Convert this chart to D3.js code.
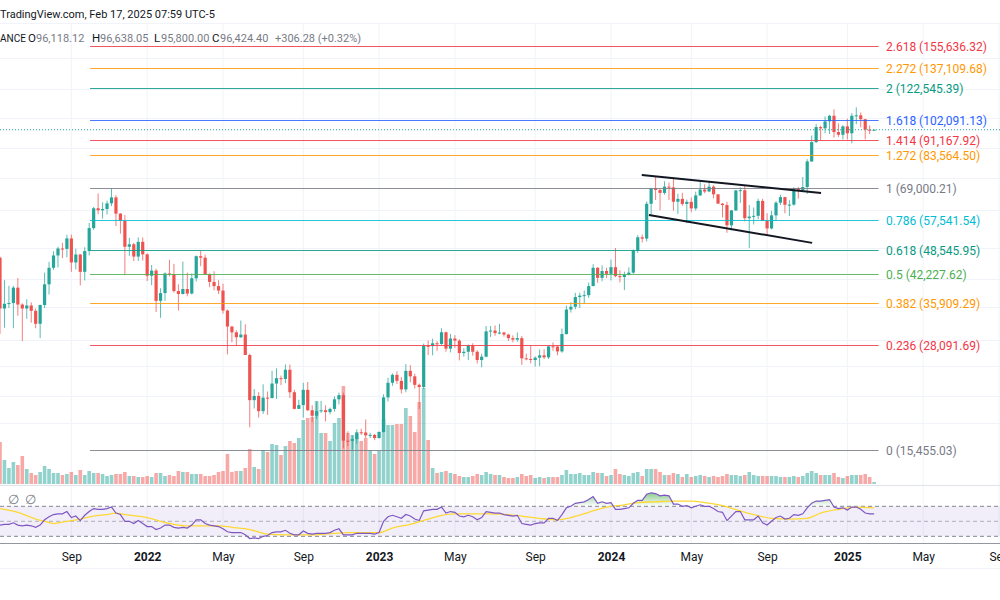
<!DOCTYPE html>
<html><head><meta charset="utf-8">
<script src="https://cdn.jsdelivr.net/npm/d3@7"></script>
<style>body{margin:0;background:#fff;overflow:hidden}svg{display:block;font-family:Roboto,"Noto Sans",sans-serif}</style>
</head><body><svg id="c" width="1000" height="600"></svg>
<script>
// ---------- DATA (weekly bars, index 0 = week of 17 May 2021) ----------
const opens=[46400,34700,35650,35800,39100,35500,34700,35300,34250,31800,
35400,39850,43800,47000,48900,48800,51800,45150,47250,42800,
48200,54950,61550,60850,61300,63300,65500,59700,57250,49400,
50100,46700,50800,47300,41850,43100,36250,37900,42400,42200,
38350,37700,38800,37800,41250,46800,46400,42150,40400,39450,
38450,34300,31300,30280,29450,29900,26600,20550,21050,19300,
20850,20800,22600,23300,23200,24450,21500,19550,19980,21800,
19400,18800,19300,19400,19200,19550,20650,21150,16300,16280,
16450,17100,17080,16800,16850,16550,17130,20880,22700,23750,
22950,21850,24300,23550,22430,22150,28030,27990,28450,28330,
30300,27590,29230,28880,26900,27100,28070,27100,25850,26350,
30450,30600,30150,30250,29900,29300,29050,29300,26100,26000,
25850,26200,26550,26250,27950,27920,27150,29990,34500,35050,
37050,37350,37450,39450,43800,41350,43000,42300,43950,41750,
41550,42050,42600,48300,52150,51750,63150,68950,68350,67200,
69650,69360,63900,64950,63100,63850,61500,66250,68500,67750,
69650,66650,63200,62700,55850,60800,68150,68250,58150,58700,
58950,64200,57300,54850,59100,63550,65600,62800,62850,69000,
68350,69500,80450,89850,97900,97200,101150,104450,95150,93700,
98300,94500,104450,104700,102400,96450,96118.12];
const highs=[46650,40800,39500,39500,41300,35750,36600,35950,34700,35500,
42600,45300,48150,49400,50500,52900,52950,48850,47400,49250,
56600,62000,67000,63700,64300,69000,66350,59900,59200,51950,
50500,52100,52100,47550,44500,43550,38950,42650,45850,44800,
39850,45400,42600,42400,47000,48200,47200,42450,42950,40800,
40000,34500,31400,30650,32400,31700,26800,21900,21500,22500,
21600,24300,24650,23650,25200,25200,21800,20600,22700,22800,
19950,20400,20450,19950,19700,21000,21450,21450,17200,16800,
17400,17450,18400,17050,16950,17200,21250,23350,23950,24250,
23450,25250,25100,23900,22600,28400,28900,29200,28800,31000,
30400,30000,29800,29100,27650,28250,28450,27350,26800,31400,
31400,31500,31800,30350,30050,29750,30250,29650,26800,28150,
26400,27450,27500,28000,28600,28000,30950,35280,35950,37950,
37980,38450,40250,44700,43950,44400,43800,45900,49050,43200,
42850,43900,48600,52800,52950,64000,69200,73800,68900,71800,
71300,72800,66900,67250,64700,65500,67700,71950,70600,71950,
70200,66800,63400,63850,61000,68400,69400,70100,62700,61800,
65000,64950,59800,60650,64100,66500,65700,64450,69400,69500,
73600,81500,93300,99600,98700,104000,105000,108350,99950,98900,
102700,106000,109600,106450,102500,98800,96638.05];
const lows=[30000,31100,34800,31000,33300,28800,32700,32000,31000,29300,
34800,37600,43300,43900,46300,46500,42800,43400,39600,40750,
47000,54400,59500,58000,59400,62300,55600,53250,42000,46900,
45500,45550,45650,40600,39650,34000,32900,36250,41700,38000,
34300,37600,37200,37600,40500,44200,42100,39200,38500,37700,
33700,26700,28600,28000,29300,26600,17600,19600,18600,19000,
18900,20750,20700,22400,22650,20800,19500,19550,18600,19300,
18150,18450,19100,18200,18950,19250,20050,15600,15800,15476,
16000,16850,16550,16550,16350,16500,17080,20400,22300,22550,
21350,21500,22750,21950,19550,21900,26600,26550,27250,28200,
27100,27000,27700,25800,26350,25850,26500,25350,24800,26250,
29500,29700,29950,29550,28850,28600,28700,25150,25800,25350,
24900,24950,26000,26000,27250,26550,26950,29900,33900,34550,
34800,35600,36850,39450,40200,40550,41300,40750,41500,40300,
38550,41900,42300,47700,50600,50900,59000,64550,60800,66550,
64500,60700,59600,62400,56550,60200,60750,66050,67100,67500,
65100,63200,58400,53500,54250,60600,63500,57100,49050,56100,
57800,57200,52550,54550,57500,62700,59800,58900,62450,65000,
67500,66800,80200,89400,90800,94500,94150,92200,92550,91250,
91200,89250,99500,97750,91250,94100,95800];
const closes=[34700,35650,35800,39100,35500,34700,35300,34250,31800,35400,
39850,43800,47000,48900,48800,51800,45150,47250,42800,48200,
54950,61550,60850,61300,63300,65500,59700,57250,49400,50100,
46700,50800,47300,41850,43100,36250,37900,42400,42200,38350,
37700,38800,37800,41250,46800,46400,42150,40400,39450,38450,
34300,31300,30280,29450,29900,26600,20550,21050,19300,20850,
20800,22600,23300,23200,24450,21500,19550,19980,21800,19400,
18800,19300,19400,19200,19550,20650,21150,16300,16280,16450,
17100,17080,16800,16850,16550,17130,20880,22700,23750,22950,
21850,24300,23550,22430,22150,28030,27990,28450,28330,30300,
27590,29230,28880,26900,27100,28070,27100,25850,26350,30450,
30600,30150,30250,29900,29300,29050,29300,26100,26000,25850,
26200,26550,26250,27950,27920,27150,29990,34500,35050,37050,
37350,37450,39450,43800,41350,43000,42300,43950,41750,41550,
42050,42600,48300,52150,51750,63150,68950,68350,67200,69650,
69360,63900,64950,63100,63850,61500,66250,68500,67750,69650,
66650,63200,62700,55850,60800,68150,68250,58150,58700,58950,
64200,57300,54850,59100,63550,65600,62800,62850,69000,68350,
69500,80450,89850,97900,97200,101150,104450,95150,93700,98300,
94500,104450,104700,102400,96450,96118.12,96424.40];
// weekly volume, thousand BTC
const volumes=[1050,600,400,550,475,700,375,275,225,300,
450,375,275,275,225,250,300,225,350,225,
325,275,275,250,200,225,250,250,300,200,
200,175,175,200,175,275,275,200,225,200,
325,300,300,250,250,250,200,200,225,300,
325,750,300,325,325,400,875,425,375,850,
800,1000,975,725,950,1075,1025,1150,1600,1650,
1675,2075,1275,1275,1075,1525,1650,2450,1275,1225,
1250,1075,1150,850,750,825,1625,1475,1475,1500,
1500,1900,1700,1300,2050,2400,1100,400,275,300,
325,275,250,200,175,175,200,250,225,300,
250,225,225,175,150,150,175,250,200,225,
150,175,150,175,175,175,225,350,250,250,
275,225,225,300,275,275,200,225,375,250,
225,200,275,300,200,375,375,375,300,225,
225,275,250,175,250,175,200,225,200,175,
200,175,200,250,225,225,200,225,300,225,
200,200,200,200,200,175,175,175,200,175,
200,275,325,275,225,225,225,275,175,150,
200,225,225,225,250,175,50];
// RSI(14)
const rsiValues=[45,46,46,48,45,44,45,44,42,45,
52,56,59,60,60,63,55,57,51,58,
63,67,66,66,67,69,61,59,50,50,
47,51,47,43,43,39,41,45,45,42,
41,42,41,45,52,52,47,45,44,43,
40,36,35,35,35,32,27,28,27,30,
31,35,36,36,38,34,32,32,37,34,
33,34,34,34,35,38,40,32,32,32,
34,34,34,34,33,35,50,56,58,56,
54,59,57,53,51,64,65,66,66,69,
61,63,62,57,56,58,56,52,55,63,
62,61,61,59,58,57,58,47,46,45,
47,48,48,54,54,51,59,68,70,74,
75,76,79,83,74,76,74,75,66,66,
67,68,74,78,78,86,88,87,84,85,
84,73,73,70,71,68,70,72,70,70,
67,63,62,51,57,63,63,52,52,52,
57,48,45,50,55,57,53,54,59,58,
60,68,74,77,77,78,79,69,67,68,
65,69,69,66,61,60,60];
// RSI moving average, read at these bar indices
const rsiMaIndex=[0,4,8,10,12,15,18,21,24,26,28,31,33,36,39,42,45,49,52,56,60,64,67,71,75,78,82,85,88,92,96,99,102,106,110,114,117,121,125,128,132,136,140,143,147,151,155,158,162,166,169,173,177,181,184,188,192,196];
const rsiMaValues=[67,62,53,50,47,50,53,57,59,61,59,57,55,50,46,44,44,44,42,39,33,32,32,32,34,35,35,35,41,46,53,58,60,60,60,59,57,54,52,55,62,69,72,75,76,77,77,75,71,64,59,54,53,54,61,66,69,68];
// time axis
const tickIndex=[16,33,50,68,85,102,120,137,155,172,190,207,224];
const tickLabels=["Sep","2022","May","Sep","2023","May","Sep","2024","May","Sep","2025","May","Sep"];
// fibonacci levels
const fibRatios=["2.618","2.272","2","1.618","1.414","1.272","1","0.786","0.618","0.5","0.382","0.236","0"];
const fibPrices=[155636.32,137109.68,122545.39,102091.13,91167.92,83564.50,69000.21,57541.54,48545.95,42227.62,35909.29,28091.69,15455.03];
// channel drawn on the chart: [barIndex, price]
const channelUpper=[[143.9,74470],[184.1,67200]];
const channelLower=[[145.5,59250],[182.1,50500]];
// price grid
const gridPrices=[18000,21000,25000,29000,35000,41000,49000,61000,73000,87000,103000,122000,145000];
const lastPrice=96424.40;
const header1="TradingView.com, Feb 17, 2025 07:59 UTC-5";
const exchangeTail="ANCE";
const ohlcLabels=["O","H","L","C"];
const ohlcValues=["96,118.12","96,638.05","95,800.00","96,424.40"];
const changeText="+306.28 (+0.32%)";

// ---------- STYLE / LAYOUT ----------
const fibColors=["#f23645","#ff9800","#089981","#2962ff","#f23645","#ff9800","#787b86","#00bcd4","#089981","#4caf50","#ff9800","#f23645","#787b86"];
const UP="#26a69a", DN="#ef5350", GRID="#f0f3fa";
const ohlcLabelX=[28,92,154,212], ohlcValueX=[36,100,161,220], changeX=275;

const svg=d3.select("#c");
const n=closes.length;
const x=d3.scaleLinear().domain([0,224]).range([0,999]);
const y=d3.scaleLog().domain([15455.03,155636.32]).range([450,46]);
const yVol=d3.scaleLinear().domain([0,2450]).range([484,386]);
const yRsi=d3.scaleLinear().domain([30,70]).range([536.3,506.3]);
const idx=d3.range(n);

svg.append("rect").attr("width",1000).attr("height",600).attr("fill","#fff");

// grid
const g=svg.append("g");
g.selectAll(".vg").data(tickIndex).join("line")
 .attr("x1",d=>x(d)).attr("x2",d=>x(d)).attr("y1",23).attr("y2",543)
 .attr("stroke",GRID).attr("stroke-width",1);
g.selectAll(".hg").data(gridPrices).join("line")
 .attr("x1",0).attr("x2",1000).attr("y1",d=>Math.round(y(d))+0.5).attr("y2",d=>Math.round(y(d))+0.5)
 .attr("stroke",GRID).attr("stroke-width",1);
g.append("line").attr("x1",0).attr("x2",1000).attr("y1",23.5).attr("y2",23.5).attr("stroke",GRID);

// volume
svg.append("g").selectAll("rect").data(idx).join("rect")
 .attr("x",i=>x(i)-1.8).attr("width",3.6)
 .attr("y",i=>yVol(volumes[i])).attr("height",i=>yVol(0)-yVol(volumes[i]))
 .attr("fill",i=>closes[i]>=opens[i]?"rgba(38,166,154,0.5)":"rgba(239,83,80,0.5)");

// candles
const cg=svg.append("g");
cg.selectAll("line").data(idx).join("line")
 .attr("x1",i=>x(i)).attr("x2",i=>x(i))
 .attr("y1",i=>y(highs[i])).attr("y2",i=>y(lows[i]))
 .attr("stroke",i=>closes[i]>=opens[i]?UP:DN).attr("stroke-opacity",0.75).attr("stroke-width",1);
cg.selectAll("rect").data(idx).join("rect")
 .attr("x",i=>x(i)-1.6).attr("width",3.2)
 .attr("y",i=>y(Math.max(opens[i],closes[i])))
 .attr("height",i=>Math.max(1,Math.abs(y(opens[i])-y(closes[i]))))
 .attr("fill",i=>closes[i]>=opens[i]?UP:DN);

// fib levels
const fg=svg.append("g");
fibPrices.forEach((p,k)=>{
  const yy=Math.round(y(p))+0.5;
  fg.append("line").attr("x1",x(20.2)).attr("x2",x(197)).attr("y1",yy).attr("y2",yy)
    .attr("stroke",fibColors[k]).attr("stroke-opacity",0.85).attr("stroke-width",1);
  fg.append("text").attr("x",886).attr("y",yy).attr("dy","0.35em")
    .attr("fill",fibColors[k]).attr("font-size",12)
    .text(`${fibRatios[k]} (${d3.format(",.2f")(p)})`);
});

// channel
[channelUpper,channelLower].forEach(c=>{
  svg.append("line").attr("x1",x(c[0][0])).attr("y1",y(c[0][1])).attr("x2",x(c[1][0])).attr("y2",y(c[1][1]))
   .attr("stroke","#131722").attr("stroke-width",2);
});

// last price line
svg.append("line").attr("x1",0).attr("x2",1000).attr("y1",y(lastPrice)).attr("y2",y(lastPrice))
 .attr("stroke",UP).attr("stroke-width",1).attr("stroke-dasharray","1,2");

// header
svg.append("text").attr("x",0).attr("y",18).attr("font-size",11).attr("fill","#131722").text(header1);
svg.append("text").attr("x",0).attr("y",42).attr("font-size",10).attr("fill","#131722").text(exchangeTail);
ohlcLabels.forEach((l,k)=>{
  svg.append("text").attr("x",ohlcLabelX[k]).attr("y",42).attr("font-size",11.5).attr("fill","#131722").text(l);
  svg.append("text").attr("x",ohlcValueX[k]).attr("y",42).attr("font-size",11).attr("fill","#787b86").text(ohlcValues[k]);
});
svg.append("text").attr("x",changeX).attr("y",42).attr("font-size",11).attr("fill","#787b86").text(changeText);

// RSI pane
svg.append("line").attr("x1",0).attr("x2",1000).attr("y1",485.5).attr("y2",485.5).attr("stroke","#e0e3eb");
svg.append("rect").attr("x",0).attr("width",1000).attr("y",yRsi(70)).attr("height",yRsi(30)-yRsi(70))
 .attr("fill","rgba(126,87,194,0.1)");
[70,50,30].forEach(v=>{
  svg.append("line").attr("x1",0).attr("x2",1000).attr("y1",yRsi(v)).attr("y2",yRsi(v))
   .attr("stroke","#787b86").attr("stroke-opacity",v===50?0.55:0.9).attr("stroke-dasharray","4,3");
});
const defs=svg.append("defs");
const gr=defs.append("linearGradient").attr("id","ob").attr("gradientUnits","userSpaceOnUse")
 .attr("x1",0).attr("x2",0).attr("y1",yRsi(95)).attr("y2",yRsi(70));
gr.append("stop").attr("offset",0).attr("stop-color","#4caf50").attr("stop-opacity",0.9);
gr.append("stop").attr("offset",1).attr("stop-color","#4caf50").attr("stop-opacity",0);
svg.append("path").datum(idx)
 .attr("d",d3.area().x(i=>x(i)).y0(yRsi(70)).y1(i=>yRsi(Math.max(70,rsiValues[i]))))
 .attr("fill","url(#ob)");
svg.append("path").datum(rsiMaIndex.map((d,k)=>[d,rsiMaValues[k]]))
 .attr("d",d3.line().x(d=>x(d[0])).y(d=>yRsi(d[1])).curve(d3.curveMonotoneX))
 .attr("fill","none").attr("stroke","#fdd835").attr("stroke-width",1.3);
svg.append("path").datum(idx)
 .attr("d",d3.line().x(i=>x(i)).y(i=>yRsi(rsiValues[i])))
 .attr("fill","none").attr("stroke","#7e57c2").attr("stroke-width",1.2);
svg.append("text").attr("x",8).attr("y",504).attr("font-size",13).attr("fill","#787b86").text("∅");
svg.append("text").attr("x",25).attr("y",504).attr("font-size",13).attr("fill","#787b86").text("∅");

// time axis
svg.append("line").attr("x1",0).attr("x2",1000).attr("y1",543.5).attr("y2",543.5).attr("stroke","#9598a1");
svg.append("line").attr("x1",0).attr("x2",1000).attr("y1",568.5).attr("y2",568.5).attr("stroke",GRID);
const ax=svg.append("g").attr("transform","translate(0,544)")
 .call(d3.axisBottom(x).tickValues(tickIndex).tickSize(0).tickPadding(8).tickFormat((d,k)=>tickLabels[k]));
ax.select(".domain").remove();
ax.selectAll("text").attr("font-size",12).attr("fill","#131722")
 .attr("font-family","Roboto,'Noto Sans',sans-serif")
 .attr("font-weight",(d,k)=>/^\d{4}$/.test(tickLabels[k])?"bold":"normal");
</script></body></html>
